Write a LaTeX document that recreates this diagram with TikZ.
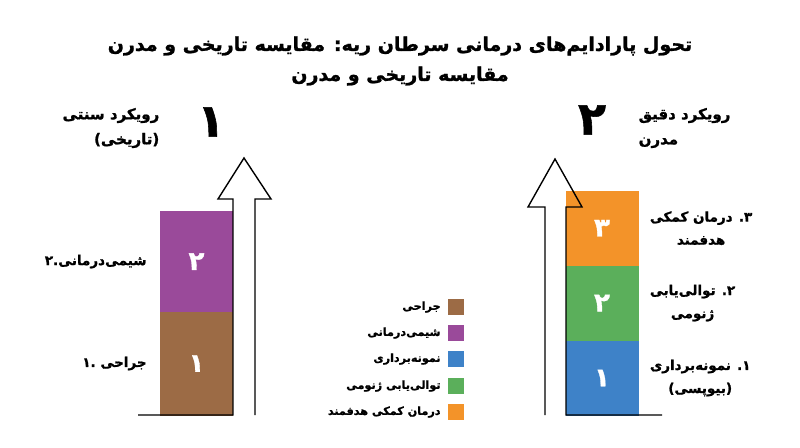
\documentclass[tikz,border=0pt]{standalone}
\usepackage{fontspec}
\usetikzlibrary{positioning}
\newfontfamily\farsi[Script=Arabic, BoldFeatures={FakeBold=1.2}]{DejaVu Sans}
\TeXXeTstate=1
\newcommand{\fa}[1]{\beginR #1\endR}
\definecolor{surgery}{HTML}{9C6B45}
\definecolor{chemo}{HTML}{9A4A9A}
\definecolor{biopsy}{HTML}{3E82C8}
\definecolor{genome}{HTML}{5BAF5B}
\definecolor{target}{HTML}{F39329}

\begin{document}
\begin{tikzpicture}[x=1pt, y=-1pt, line width=1.4pt, font=\farsi\bfseries,
    bar/.style={minimum width=72pt, inner sep=0pt, text=white, fill=#1, draw=#1, line width=0.4pt, font=\farsi\bfseries\fontsize{26}{26}\selectfont},
    key/.style={minimum size=16pt, inner sep=0pt},
    side/.style={font=\farsi\bfseries\fontsize{13.5}{23}\selectfont, inner sep=0pt},
    head/.style={font=\farsi\bfseries\fontsize{15}{25}\selectfont, inner sep=0pt},
    legend/.style={font=\farsi\bfseries\fontsize{11.2}{11}\selectfont, inner sep=0pt},
    big/.style={font=\farsi\bfseries\fontsize{46}{46}\selectfont, inner sep=0pt}]
    \useasboundingbox (0,0) rectangle (800,447);

    % title
    \node[align=center, font=\farsi\bfseries\fontsize{19}{30}\selectfont] (title) at (400,61)
        {\fa{تحول پارادایم‌های درمانی سرطان ریه: مقایسه تاریخی و مدرن}\\\fa{مقایسه تاریخی و مدرن}};

    % traditional approach
    \node[head, align=right, anchor=east] (oldhead) at (160,128) {\fa{رویکرد سنتی}\\\fa{(تاریخی)}};
    \node[big] (one) at (211,122) {\fa{۱}};
    \node[bar=surgery, minimum height=103pt] (surg) at (196.5,363.5) {\fa{۱}};
    \node[bar=chemo, minimum height=100pt, above=0pt of surg] (chemo) {\fa{۲}};
    \node[side, left=13pt of chemo] (chemolabel) {\fa{شیمی‌درمانی.۲}};
    \node[side, left=13pt of surg] (surglabel) {\fa{جراحی .۱}};
    \draw (138,415) -- (233,415) -- (233,199) -- (218,199) -- (244,158) -- (271,199) -- (255,199) -- (255,415);

    % modern approach
    \node[big] (two) at (592,120) {\fa{۲}};
    \node[head, align=left, anchor=west] (newhead) at (638,128) {\fa{رویکرد دقیق}\\\fa{مدرن}};
    \node[bar=biopsy, minimum height=74pt] (biop) at (602,378) {\fa{۱}};
    \node[bar=genome, minimum height=75pt, above=0pt of biop] (geno) {\fa{۲}};
    \node[bar=target, minimum height=74pt, above=0pt of geno] (targ) {\fa{۳}};
    \node[side, align=center, right=11pt of targ] (targlabel) {\fa{۳. درمان کمکی}\\\fa{هدفمند}};
    \node[side, align=center, right=11pt of geno] (genolabel) {\fa{۲. توالی‌یابی}\\\fa{ژنومی}};
    \node[side, align=center, right=11pt of biop] (bioplabel) {\fa{۱. نمونه‌برداری}\\\fa{(بیوپسی)}};
    \draw (662,415) -- (566,415) -- (566,207) -- (582,207) -- (555,159) -- (528,207) -- (545,207) -- (545,415);

    % legend
    \node[key, fill=surgery] (k1) at (456,307) {};
    \node[key, fill=chemo] (k2) at (456,333) {};
    \node[key, fill=biopsy] (k3) at (456,359) {};
    \node[key, fill=genome] (k4) at (456,386) {};
    \node[key, fill=target] (k5) at (456,412) {};
    \node[legend, left=6pt of k1] (t1) {\fa{جراحی}};
    \node[legend, left=6pt of k2] (t2) {\fa{شیمی‌درمانی}};
    \node[legend, left=6pt of k3] (t3) {\fa{نمونه‌برداری}};
    \node[legend, left=6pt of k4] (t4) {\fa{توالی‌یابی ژنومی}};
    \node[legend, left=6pt of k5] (t5) {\fa{درمان کمکی هدفمند}};
\end{tikzpicture}
\end{document}
